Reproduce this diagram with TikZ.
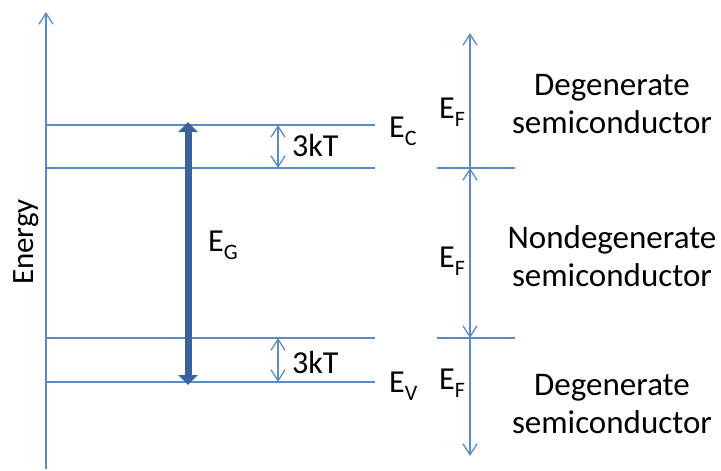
\documentclass[tikz,border=0pt]{standalone}
\usepackage{fontspec}
\setmainfont{Carlito}
\usetikzlibrary{arrows.meta}
\definecolor{lineblue}{HTML}{5B8BC7}
\definecolor{darkblue}{HTML}{3B639A}
\newcommand{\lowsub}[1]{\raisebox{-8pt}{\fontsize{22}{22}\selectfont #1}}
\begin{document}
\begin{tikzpicture}[x=1pt,y=-1pt,
  thin line/.style={draw=lineblue,line width=1.3pt},
  barb/.tip={Straight Barb[length=11pt,width=14pt,line width=1.3pt]},
  open tip/.style={-barb},
  both tips/.style={barb-barb},
  lbl/.style={font=\fontsize{32}{38}\selectfont,text=black,inner sep=0pt,anchor=base west},
  desc/.style={font=\fontsize{33}{38}\selectfont,text=black,inner sep=0pt,align=center,anchor=base}]
\useasboundingbox (0,0) rectangle (721,471);
% axis
\coordinate (axB) at (46,469);
\coordinate (axT) at (46,12);
\draw[thin line,open tip] (axB) -- (axT);
\node[font=\fontsize{31}{31}\selectfont,inner sep=0pt,rotate=90,anchor=base] (energy) at (34,242) {Energy};
% level lines
\coordinate (c1) at (46,125); \coordinate (c2) at (375,125);
\coordinate (d1) at (46,168); \coordinate (d2) at (375,168);
\coordinate (e1) at (46,338); \coordinate (e2) at (375,338);
\coordinate (f1) at (46,382); \coordinate (f2) at (375,382);
\draw[thin line] (c1) -- (c2);
\draw[thin line] (d1) -- (d2);
\draw[thin line] (e1) -- (e2);
\draw[thin line] (f1) -- (f2);
% band gap arrow
\coordinate (gT) at (188,122);
\coordinate (gB) at (188,385);
\draw[draw=darkblue,line width=7pt,{Triangle[length=10pt,width=19pt]}-{Triangle[length=10pt,width=19pt]}] (gB) -- (gT);
\node[lbl] (eg) at (208,251) {E\lowsub{G}};
% 3kT arrows
\coordinate (k1) at (278,125); \coordinate (k2) at (278,168);
\coordinate (k3) at (278,338); \coordinate (k4) at (278,382);
\draw[thin line,both tips] (k1) -- (k2);
\draw[thin line,both tips] (k3) -- (k4);
\node[lbl] (kt1) at (292,156) {3kT};
\node[lbl] (kt2) at (292,373) {3kT};
\node[lbl] (ec) at (389,137) {E\lowsub{C}};
\node[lbl] (ev) at (389,392) {E\lowsub{V}};
% right side
\coordinate (r1) at (437,168); \coordinate (r2) at (515,168);
\coordinate (r3) at (437,338); \coordinate (r4) at (515,338);
\draw[thin line] (r1) -- (r2);
\draw[thin line] (r3) -- (r4);
\coordinate (a0) at (470,33);
\coordinate (a1) at (470,168);
\coordinate (a2) at (470,338);
\coordinate (a3) at (470,456);
\draw[thin line,open tip] (a1) -- (a0);
\draw[thin line,both tips] (a1) -- (a2);
\draw[thin line,open tip] (a2) -- (a3);
\node[lbl] (ef1) at (439,118) {E\lowsub{F}};
\node[lbl] (ef2) at (439,267) {E\lowsub{F}};
\node[lbl] (ef3) at (439,389) {E\lowsub{F}};
\node[desc] (deg1) at (612,133) {Degenerate\\semiconductor};
\node[desc] (nondeg) at (612,286) {Nondegenerate\\semiconductor};
\node[desc] (deg2) at (612,433) {Degenerate\\semiconductor};
\end{tikzpicture}
\end{document}
